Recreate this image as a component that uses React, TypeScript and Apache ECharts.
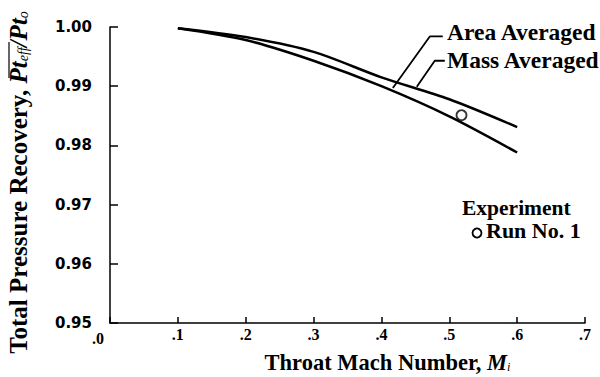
import React, { useEffect, useRef } from "react";
import * as echarts from "echarts";

const machNumbers = [0.1, 0.2, 0.3, 0.4, 0.5, 0.6];
const massAveraged = [0.9998, 0.9983, 0.9958, 0.9915, 0.9878, 0.9831];
const areaAveraged = [0.9998, 0.9978, 0.9943, 0.99, 0.9849, 0.9788];
const experiment = [[0.518, 0.9851]];
const areaLeader = [[0.4168, 0.9897], [0.4713, 0.9984], [0.4904, 0.9984]];
const massLeader = [[0.4521, 0.9899], [0.4786, 0.9943], [0.4934, 0.9943]];

const serif = "'Liberation Serif', 'Times New Roman', serif";
const sans = "'DejaVu Sans', Arial, sans-serif";

export default function App() {
  const ref = useRef<HTMLDivElement>(null);
  useEffect(() => {
    document.body.style.margin = "0";
    const chart = echarts.init(ref.current!, null, { renderer: "svg" });
    const lineStyle = { color: "#000", width: 2.5 };
    const makeRich = (size: number) => ({
      a: { fontFamily: serif, fontWeight: "bold", fontSize: size, color: "#000" },
      i: { fontFamily: serif, fontWeight: "bold", fontStyle: "italic", fontSize: size, color: "#000" },
      s: { fontFamily: serif, fontStyle: "italic", fontSize: Math.round(size * 0.55), color: "#000", padding: [Math.round(size * 0.4), 0, 0, 0] },
      g: { width: 15, fontSize: size },
    });
    chart.setOption({
      animation: false,
      backgroundColor: "#fff",
      grid: { left: 110, right: 15, top: 27, bottom: 54, containLabel: false, outerBoundsMode: "none" },
      xAxis: {
        type: "value",
        min: 0,
        max: 0.7,
        interval: 0.1,
        axisLine: { lineStyle: { color: "#000", width: 1.5 } },
        axisTick: { inside: true, length: 6, lineStyle: { color: "#000", width: 1.5 } },
        splitLine: { show: false },
        axisLabel: {
          color: "#000",
          fontFamily: serif,
          fontWeight: "bold",
          fontSize: 16,
          margin: 3,
          formatter: (v: number) => {
            const s = "." + Math.round(v * 10);
            return v === 0 ? "{z|" + s + "}" : s;
          },
          rich: {
            z: { fontFamily: serif, fontWeight: "bold", fontSize: 16, color: "#000", padding: [4, 24, 0, 0] },
          },
        },
        name: "{a|Throat Mach Number, }{i|M}{s|i}",
        nameLocation: "middle",
        nameGap: 27,
        nameTextStyle: { rich: makeRich(22.5), padding: [0, 0, 0, 80] },
      },
      yAxis: {
        type: "value",
        min: 0.95,
        max: 1.0,
        interval: 0.01,
        axisLine: { show: true, lineStyle: { color: "#000", width: 1.5 } },
        axisTick: { show: true, inside: true, length: 8, lineStyle: { color: "#000", width: 1.5 } },
        splitLine: { show: false },
        axisLabel: {
          color: "#000",
          fontFamily: sans,
          fontWeight: "bold",
          fontSize: 15,
          margin: 18,
          formatter: (v: number) => v.toFixed(2),
        },
        name: "{a|Total Pressure Recovery, }{i|Pt}{s|eff}{i|/Pt}{s|o}{g| }",
        nameLocation: "middle",
        nameRotate: 90,
        nameGap: 79,
        nameTextStyle: { rich: makeRich(25) },
      },
      series: [
        {
          name: "Mass Averaged",
          type: "line",
          data: machNumbers.map((m, i) => [m, massAveraged[i]]),
          smooth: 0.3,
          symbol: "none",
          lineStyle,
          silent: true,
        },
        {
          name: "Area Averaged",
          type: "line",
          data: machNumbers.map((m, i) => [m, areaAveraged[i]]),
          smooth: 0.3,
          symbol: "none",
          lineStyle,
          silent: true,
        },
        {
          name: "Area leader",
          type: "line",
          data: areaLeader,
          symbol: "none",
          lineStyle: { color: "#000", width: 1.8 },
          silent: true,
        },
        {
          name: "Mass leader",
          type: "line",
          data: massLeader,
          symbol: "none",
          lineStyle: { color: "#000", width: 1.8 },
          silent: true,
        },
        {
          name: "Experiment Run No. 1",
          type: "scatter",
          data: experiment,
          symbol: "circle",
          symbolSize: 10,
          itemStyle: { color: "#fff", borderColor: "#000", borderWidth: 1.8 },
        },
      ],
      graphic: [
        { type: "text", x: 447, y: 32, style: { text: "Area Averaged", font: `bold 23.5px ${serif}`, lineHeight: 22, fill: "#000", textVerticalAlign: "middle" } },
        { type: "text", x: 447, y: 60, style: { text: "Mass Averaged", font: `bold 23.5px ${serif}`, lineHeight: 22, fill: "#000", textVerticalAlign: "middle" } },
        { type: "text", x: 462, y: 208, style: { text: "Experiment", font: `bold 21.5px ${serif}`, lineHeight: 20, fill: "#000", textVerticalAlign: "middle" } },
        { type: "circle", shape: { cx: 477, cy: 233, r: 4.5 }, style: { fill: "#fff", stroke: "#000", lineWidth: 1.8 } },
        { type: "text", x: 486, y: 230, style: { text: "Run No. 1", font: `bold 22px ${serif}`, lineHeight: 20, fill: "#000", textVerticalAlign: "middle" } },
        { type: "line", shape: { x1: 9, y1: 42, x2: 9, y2: 78 }, style: { stroke: "#000", lineWidth: 1.2 } },
      ],
    });
    return () => chart.dispose();
  }, []);
  return <div ref={ref} style={{ width: 600, height: 377 }} />;
}
